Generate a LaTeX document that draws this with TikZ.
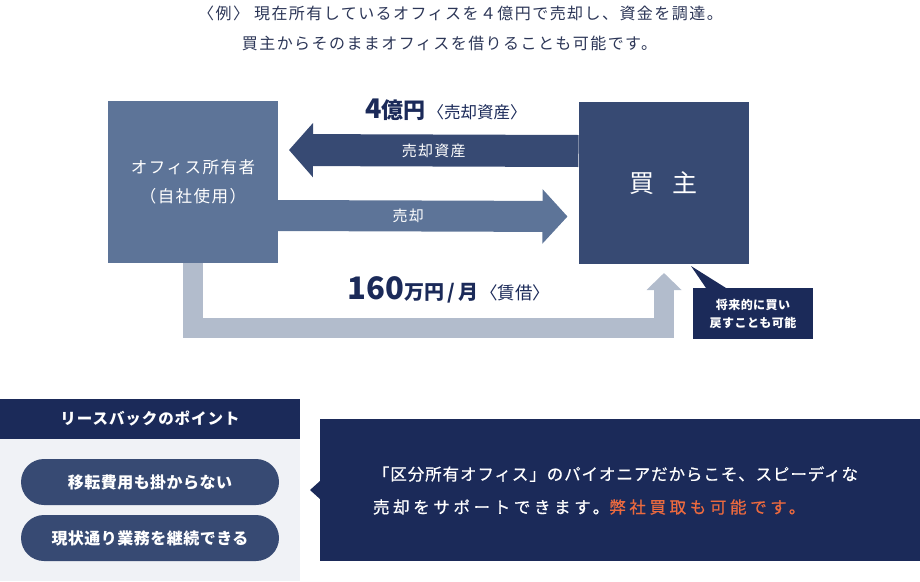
\documentclass[tikz,border=0pt]{standalone}
\usepackage{fontspec}
\setmainfont{Noto Sans CJK JP}
\usetikzlibrary{positioning,arrows.meta}

\definecolor{navy}{HTML}{1B2A59}
\definecolor{slate}{HTML}{5D7498}
\definecolor{steel}{HTML}{374A73}
\definecolor{mist}{HTML}{B2BCCC}
\definecolor{paper}{HTML}{F0F2F6}
\definecolor{ink}{HTML}{2C3657}
\definecolor{accent}{HTML}{EC6A3F}

\newcommand{\trk}[1]{\addfontfeature{LetterSpace=#1}}

\begin{document}
\begin{tikzpicture}[x=1pt, y=-1pt,
    every node/.style={inner sep=0pt, outer sep=0pt},
    box/.style={rectangle, minimum width=170pt, minimum height=162pt, text=white},
    pill/.style={rectangle, rounded corners=23pt, fill=steel, minimum width=258pt, minimum height=46pt, text=white, font=\fontsize{16}{16}\selectfont\bfseries\trk{3}},
    band/.style={line width=#1, line join=miter}]
    \useasboundingbox (0,0) rectangle (920,581);

    % Title lines
    \node[text=ink, font=\fontsize{16}{16}\selectfont\trk{9}] (title1) at (460.5,13) {〈例〉 現在所有しているオフィスを４億円で売却し、資金を調達。};
    \node[text=ink, font=\fontsize{16}{16}\selectfont\trk{9}] (title2) at (449.5,43) {買主からそのままオフィスを借りることも可能です。};

    % Owner and buyer
    \node[box, fill=slate, align=center, font=\fontsize{16.5}{29}\selectfont\trk{9}] (owner) at (193,182) {オフィス所有者\\（自社使用）};
    \node[box, fill=steel, font=\fontsize{25}{25}\selectfont] (buyer) at (663.5,183) {買\hspace{18pt}主};

    % Sale arrows
    \draw[band=32pt, steel, -{Triangle[length=24pt, width=53pt]}] ([yshift=32pt]buyer.west) -- ([xshift=11pt, yshift=32pt]owner.east)
        node[midway, text=white, font=\fontsize{15}{15}\selectfont\trk{8}] (asset) {売却資産};
    \draw[band=31pt, slate, -{Triangle[length=25pt, width=53pt]}] ([yshift=-33.5pt]owner.east) -- ([xshift=-11pt, yshift=-33.5pt]buyer.west)
        node[pos=0.45, text=white, font=\fontsize{15}{15}\selectfont\trk{8}] (sale) {売却};
    \node[anchor=base, text=navy] (price) at (446,118) {{\fontsize{27}{27}\selectfont\bfseries 4}{\fontsize{22}{22}\selectfont\bfseries 億円}\,{\fontsize{16.5}{16.5}\selectfont 〈売却資産〉}};

    % Rent arrow
    \coordinate (rentTip) at (664,273);
    \draw[band=20pt, mist, -{Triangle[length=17pt, width=34pt]}] (owner.south) |- (664,328) -- (rentTip);
    \node[anchor=base, text=navy] (rent) at (449,299) {{\fontsize{31}{31}\selectfont\bfseries 160}{\fontsize{20}{20}\selectfont\bfseries 万円\,/\,月}\,{\fontsize{17.5}{17.5}\selectfont 〈賃借〉}};

    % Note
    \node[fill=navy, minimum width=120pt, minimum height=51pt, text=white, align=center, font=\fontsize{12}{18}\selectfont\bfseries\trk{4}] (note) at (753,313.5) {将来的に買い\\戻すことも可能};
    \coordinate (noteTip) at (691,266);
    \fill[navy] (noteTip) -- ([xshift=13pt]note.north west) -- ([xshift=33pt]note.north west) -- cycle;

    % Points
    \node[fill=navy, minimum width=300pt, minimum height=40pt, text=white, font=\fontsize{15.5}{15.5}\selectfont\bfseries\trk{6}] (head) at (150,419) {リースバックのポイント};
    \node[fill=paper, minimum width=300pt, minimum height=142pt, below=0pt of head] (panel) {};
    \foreach \i/\y/\t in {1/482/移転費用も掛からない, 2/538/現状通り業務を継続できる} {
        \node[pill] (pill\i) at (150,\y) {\t};
    }

    % Message
    \node[fill=navy, minimum width=600pt, minimum height=142pt] (msg) at (620,490) {};
    \fill[navy] ([xshift=-10pt]msg.west) -- ([yshift=9pt]msg.west) -- ([yshift=-9pt]msg.west) -- cycle;
    \node[anchor=west, text=white, font=\fontsize{16.5}{16.5}\selectfont\addfontfeature{FakeBold=0.6}\trk{5.5}] (msg1) at (373,474) {「区分所有オフィス」のパイオニアだからこそ、スピーディな};
    \node[anchor=west, text=white, font=\fontsize{16.5}{16.5}\selectfont\addfontfeature{FakeBold=0.6}\trk{22}] (msg2) at (373,507) {売却をサポートできます。{\color{accent}弊社買取も可能です。}};
\end{tikzpicture}
\end{document}
